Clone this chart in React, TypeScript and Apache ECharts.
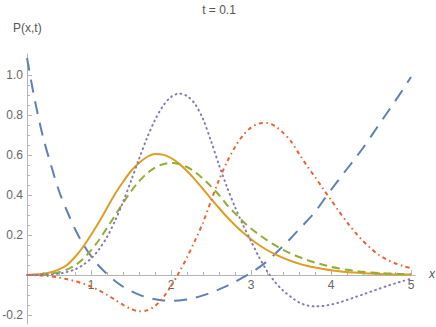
import React, { useEffect, useRef } from "react";
import * as echarts from "echarts";

const xs = [0.2,0.3,0.4,0.5,0.6,0.7,0.8,0.9,1.0,1.1,1.2,1.3,1.4,1.5,1.6,1.7,1.8,1.9,2.0,2.1,2.2,2.3,2.4,2.5,2.6,2.7,2.8,2.9,3.0,3.1,3.2,3.3,3.4,3.5,3.6,3.7,3.8,3.9,4.0,4.1,4.2,4.3,4.4,4.5,4.6,4.7,4.8,4.9,5.0];

const blueY = [1.085,0.87,0.69,0.55,0.42,0.32,0.23,0.155,0.095,0.045,0.005,-0.03,-0.058,-0.08,-0.098,-0.112,-0.121,-0.127,-0.129,-0.128,-0.123,-0.114,-0.102,-0.088,-0.072,-0.054,-0.034,-0.012,0.01,0.038,0.068,0.105,0.145,0.185,0.228,0.27,0.315,0.37,0.425,0.478,0.53,0.582,0.635,0.693,0.752,0.81,0.868,0.928,0.99];

const orangeY = [0,0.002,0.006,0.014,0.028,0.05,0.09,0.14,0.2,0.265,0.335,0.405,0.465,0.52,0.56,0.59,0.605,0.602,0.585,0.557,0.52,0.477,0.43,0.382,0.335,0.29,0.249,0.212,0.179,0.15,0.125,0.104,0.086,0.07,0.057,0.046,0.037,0.03,0.024,0.019,0.015,0.012,0.009,0.007,0.005,0.004,0.003,0.002,0.002];

const greenY = [0,0.001,0.003,0.007,0.014,0.027,0.048,0.08,0.123,0.175,0.235,0.297,0.36,0.418,0.468,0.508,0.537,0.554,0.56,0.555,0.54,0.515,0.482,0.443,0.4,0.35,0.308,0.268,0.232,0.202,0.174,0.149,0.126,0.107,0.09,0.075,0.062,0.051,0.041,0.033,0.026,0.021,0.016,0.013,0.01,0.008,0.006,0.005,0.004];

const redY = [0,-0.001,-0.003,-0.007,-0.013,-0.021,-0.031,-0.043,-0.058,-0.077,-0.099,-0.124,-0.149,-0.17,-0.181,-0.177,-0.155,-0.113,-0.056,0.012,0.088,0.172,0.262,0.37,0.475,0.565,0.64,0.698,0.737,0.757,0.76,0.745,0.712,0.668,0.607,0.545,0.49,0.432,0.375,0.318,0.264,0.214,0.17,0.132,0.1,0.077,0.059,0.045,0.034];

const purpleY = [0,0,0.001,0.003,0.007,0.015,0.028,0.05,0.082,0.128,0.19,0.27,0.365,0.47,0.58,0.685,0.775,0.845,0.89,0.907,0.895,0.855,0.78,0.67,0.55,0.44,0.34,0.25,0.17,0.09,0.02,-0.035,-0.077,-0.11,-0.137,-0.152,-0.157,-0.155,-0.148,-0.138,-0.125,-0.111,-0.097,-0.083,-0.069,-0.055,-0.042,-0.03,-0.019];

const xMajorTicks = [1, 2, 3, 4, 5];
const xMinorTicks = [0.4,0.6,0.8,1.2,1.4,1.6,1.8,2.2,2.4,2.6,2.8,3.2,3.4,3.6,3.8,4.2,4.4,4.6,4.8];
const yLabelTicks = [-0.2, 0.2, 0.4, 0.6, 0.8, 1.0];
const yMajorTicks = [-0.2, 0, 0.2, 0.4, 0.6, 0.8, 1.0];
const yMinorTicks = [-0.15,-0.1,-0.05,0.05,0.1,0.15,0.25,0.3,0.35,0.45,0.5,0.55,0.65,0.7,0.75,0.85,0.9,0.95,1.05];

const X_MIN = 0.2;
const X_MAX = 5.05;
const Y_MIN = -0.245;
const Y_MAX = 1.105;

const FONT = "Liberation Sans, Arial, sans-serif";
const AXIS_COLOR = "#b5b5b5";
const LABEL_COLOR = "#666";

export default function App() {
  const ref = useRef<HTMLDivElement>(null);
  useEffect(() => {
    if (!ref.current) return;
    const chart = echarts.init(ref.current, null, { renderer: "svg" });
    const mk = (ys: number[]) => xs.map((x, i) => [x, ys[i]]);
    const line = (name: string, ys: number[], color: string, type: any, z: number, cap = "butt") => ({
      name,
      type: "line",
      data: mk(ys),
      showSymbol: false,
      smooth: 0.3,
      xAxisIndex: 0,
      yAxisIndex: 0,
      z,
      lineStyle: { color, width: 2, type, cap },
    });
    const plotLeft = 27;
    const plotTop = 54;
    const plotW = 388;
    const plotH = 270;
    // height of the part of the plot above y = 0, so the x axis sits on zero
    const upperH = (plotH * Y_MAX) / (Y_MAX - Y_MIN);
    chart.setOption({
      animation: false,
      grid: [
        { left: plotLeft, top: plotTop, width: plotW, height: plotH, containLabel: false, outerBoundsMode: "none" },
        { left: plotLeft, top: plotTop, width: plotW, height: upperH, containLabel: false, outerBoundsMode: "none" },
      ],
      xAxis: [
        { type: "value", gridIndex: 0, min: X_MIN, max: X_MAX, show: false, axisLine: { onZero: false } },
        {
          type: "value", gridIndex: 1, min: X_MIN, max: X_MAX, position: "bottom", splitLine: { show: false },
          axisLine: { show: true, onZero: false, lineStyle: { color: AXIS_COLOR, width: 1 } },
          axisTick: { show: true, inside: true, length: 5, customValues: xMajorTicks, lineStyle: { color: AXIS_COLOR } },
          axisLabel: { customValues: xMajorTicks, margin: 4, color: LABEL_COLOR, fontSize: 12, fontFamily: FONT, formatter: (v: number) => String(v) },
        },
        {
          type: "value", gridIndex: 1, min: X_MIN, max: X_MAX, position: "bottom", splitLine: { show: false },
          axisLine: { show: false, onZero: false },
          axisTick: { show: true, inside: true, length: 3, customValues: xMinorTicks, lineStyle: { color: AXIS_COLOR } },
          axisLabel: { show: false },
        },
      ],
      yAxis: [
        {
          type: "value", gridIndex: 0, min: Y_MIN, max: Y_MAX, position: "left", splitLine: { show: false },
          axisLine: { show: true, onZero: false, lineStyle: { color: AXIS_COLOR, width: 1 } },
          axisTick: { show: true, inside: true, length: 5, customValues: yMajorTicks, lineStyle: { color: AXIS_COLOR } },
          axisLabel: { customValues: yLabelTicks, margin: 4, color: LABEL_COLOR, fontSize: 12, fontFamily: FONT, formatter: (v: number) => v.toFixed(1) },
        },
        {
          type: "value", gridIndex: 0, min: Y_MIN, max: Y_MAX, position: "left", splitLine: { show: false },
          axisLine: { show: false, onZero: false },
          axisTick: { show: true, inside: true, length: 3, customValues: yMinorTicks, lineStyle: { color: AXIS_COLOR } },
          axisLabel: { show: false },
        },
        { type: "value", gridIndex: 1, min: 0, max: Y_MAX, show: false, axisLine: { onZero: false } },
      ],
      graphic: [
        { type: "text", x: 219, y: 10, style: { text: "t = 0.1", fontSize: 12, fontFamily: FONT, fill: "#555", align: "center", verticalAlign: "middle" } },
        { type: "text", x: 13, y: 28, style: { text: "P(x,t)", fontSize: 12, fontFamily: FONT, fill: "#555", align: "left", verticalAlign: "middle" } },
        { type: "text", x: 432, y: 274, style: { text: "x", fontSize: 12, fontStyle: "italic", fontFamily: FONT, fill: "#555", align: "center", verticalAlign: "middle" } },
      ],
      series: [
        line("blue", blueY, "#5E81B5", [13, 9], 2),
        line("orange", orangeY, "#E19C24", "solid", 3),
        line("green", greenY, "#8FB032", [8, 5], 4),
        line("red", redY, "#EB6235", [4, 3.5, 1.5, 3.5], 5),
        line("purple", purpleY, "#8778B3", [0.8, 4.2], 6, "round"),
      ],
    });
    return () => chart.dispose();
  }, []);
  return <div ref={ref} style={{ width: 436, height: 327, position: "absolute", left: 0, top: 0 }} />;
}
